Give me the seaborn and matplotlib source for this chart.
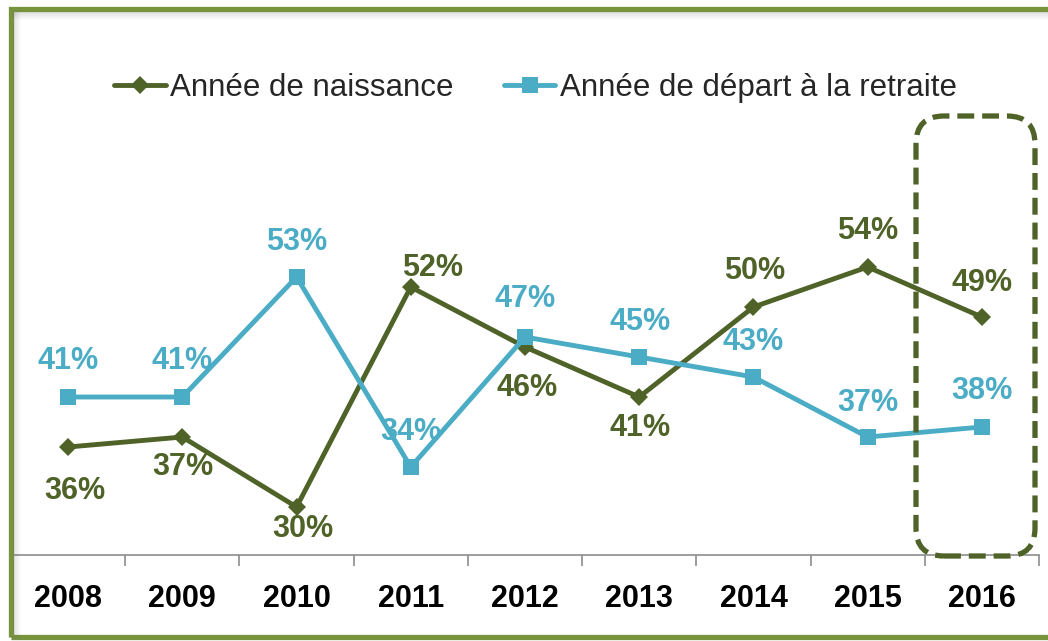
import pandas as pd
import seaborn as sns
import matplotlib.pyplot as plt
import matplotlib.patches as mpatches
from matplotlib.lines import Line2D

years = [2008, 2009, 2010, 2011, 2012, 2013, 2014, 2015, 2016]
naissance = [36, 37, 30, 52, 46, 41, 50, 54, 49]
retraite = [41, 41, 53, 34, 47, 45, 43, 37, 38]
series_names = ["Année de naissance", "Année de départ à la retraite"]

# label offsets in pixels (dx, dy)
off_naissance = [(7, -44), (0, -30), (6, -22), (22, 19), (2, -41), (1, -31), (1, 36), (0, 36), (0, 34)]
off_retraite = [(0, 36), (0, 36), (0, 35), (0, 35), (0, 38), (1, 35), (0, 35), (0, 34), (0, 36)]

green = "#4F6228"
blue = "#4BACC6"
frame_green = "#77933C"

df = pd.DataFrame({
    "annee": years * 2,
    "valeur": naissance + retraite,
    "serie": [series_names[0]] * len(years) + [series_names[1]] * len(years),
})

sns.set_style("white")
plt.rcParams["font.family"] = ["Liberation Sans", "DejaVu Sans"]

fig = plt.figure(figsize=(10.48, 6.41), dpi=100)
ax = fig.add_axes([11 / 1048, 86 / 641, 1028 / 1048, 498 / 641])

palette = {series_names[0]: green, series_names[1]: blue}
sns.lineplot(data=df, x="annee", y="valeur", hue="serie", style="serie",
             palette=palette, markers={series_names[0]: "D", series_names[1]: "s"},
             dashes=False, linewidth=3.5, markersize=10, markeredgewidth=0,
             ax=ax, legend=False)
for ln in ax.lines:
    if ln.get_marker() == "D":
        ln.set_markersize(9.5)
    else:
        ln.set_markersize(11.5)

for vals, offs, col in [(naissance, off_naissance, green), (retraite, off_retraite, blue)]:
    for x, v, (dx, dy) in zip(years, vals, offs):
        ax.annotate(f"{v}%", (x, v), xytext=(dx, dy), textcoords="offset pixels",
                    ha="center", va="center", fontsize=22, fontweight="bold", color=col)

ax.set_xlim(2007.5, 2016.5)
ax.set_ylim(25.2, 75)
ax.set_yticks([])
ax.set_xlabel("")
ax.set_ylabel("")
ax.set_xticks(years)
ax.set_xticklabels([str(y) for y in years], fontsize=22, fontweight="bold", color="black")
ax.set_xticks([y + 0.5 for y in years[:-1]] + [2016.5], minor=True)
ax.tick_params(axis="x", which="major", length=0, pad=21)
ax.tick_params(axis="x", which="minor", length=8, width=1.2, color="#8c8c8c", direction="out", bottom=True)
for s in ["top", "right", "left"]:
    ax.spines[s].set_visible(False)
ax.spines["bottom"].set_color("#8c8c8c")
ax.spines["bottom"].set_linewidth(1.2)
ax.patch.set_alpha(0)

handles = [Line2D([], [], color=green, marker="D", markersize=9.5, linewidth=3.5, markeredgewidth=0),
           Line2D([], [], color=blue, marker="s", markersize=11.5, linewidth=3.5, markeredgewidth=0)]
fig.legend(handles, series_names, loc="center", bbox_to_anchor=(0.511, 0.863),
           ncol=2, frameon=False, fontsize=22.5, handlelength=1.65, handletextpad=0.15,
           columnspacing=1.6)

# dashed highlight around 2016
box = mpatches.FancyBboxPatch((9.16, 0.85), 1.19, 4.40,
                              boxstyle="round,pad=0,rounding_size=0.28",
                              transform=fig.dpi_scale_trans, fill=False,
                              edgecolor=green, linewidth=3.8, linestyle=(0, (3.2, 1.5)))
fig.add_artist(box)

# inner shadow and outer green frame
for i in range(8):
    a = 0.22 * (1 - i / 8)
    fig.add_artist(Line2D([(13 + i) / 100] * 2, [0.02, 6.31], color="gray", alpha=a,
                          linewidth=0.75, transform=fig.dpi_scale_trans))
    fig.add_artist(Line2D([0.13, 10.6], [(641 - 12 - i) / 100] * 2, color="gray", alpha=a,
                          linewidth=0.75, transform=fig.dpi_scale_trans))
frame = mpatches.Rectangle((0.105, 0.045), 10.6, 6.275, transform=fig.dpi_scale_trans,
                           fill=False, edgecolor=frame_green, linewidth=3.8)
fig.add_artist(frame)

fig.savefig("out.png", dpi=100)
